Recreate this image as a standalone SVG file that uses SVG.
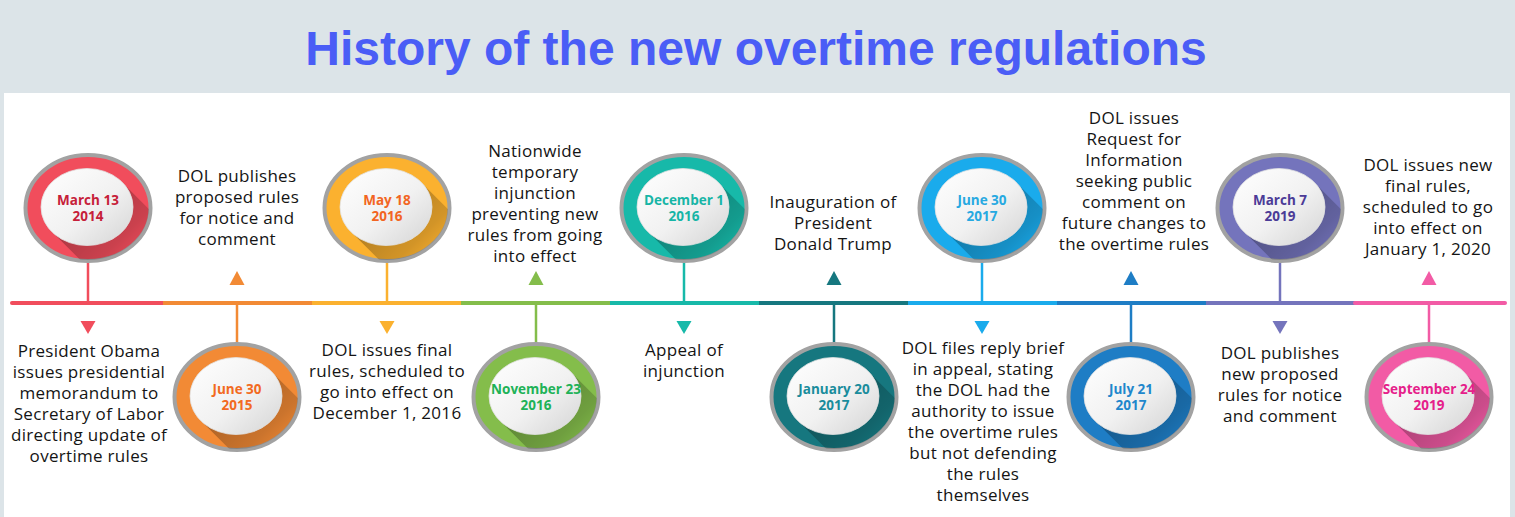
<svg xmlns="http://www.w3.org/2000/svg" xmlns:xlink="http://www.w3.org/1999/xlink" width="1515" height="517" viewBox="0 0 1515 517">
<style>
.title{font-family:"Liberation Sans",Arial,sans-serif;font-weight:700;font-size:48px;fill:#4a5df6;text-anchor:middle}
.desc{font-family:"Open Sans","Noto Sans",sans-serif;font-size:17px;fill:#141414;text-anchor:middle;letter-spacing:0.3px}
.date{font-family:"Open Sans","Noto Sans",sans-serif;font-weight:700;font-size:13.5px;text-anchor:middle}
.seg{stroke-width:4;fill:none}
.stem{stroke-width:2.5;fill:none}
</style>
<defs>
<linearGradient id="innerGrad" x1="0" y1="0" x2="1" y2="1">
<stop offset="0" stop-color="#ffffff"/>
<stop offset="0.55" stop-color="#f1f1f1"/>
<stop offset="1" stop-color="#d4d4d4"/>
</linearGradient>
<linearGradient id="shadowGrad" gradientUnits="userSpaceOnUse" x1="0" y1="0" x2="50" y2="50">
<stop offset="0" stop-color="#000" stop-opacity="0.28"/>
<stop offset="0.65" stop-color="#000" stop-opacity="0.16"/>
<stop offset="1" stop-color="#000" stop-opacity="0.03"/>
</linearGradient>
<clipPath id="ringClip"><ellipse cx="0" cy="0" rx="61" ry="52"/></clipPath>
<g id="badge">
<ellipse cx="0" cy="0" rx="62.5" ry="53" fill="currentColor" stroke="#a2a2a2" stroke-width="4"/>
<g clip-path="url(#ringClip)">
<path transform="translate(-1,-1)" d="M35.5,-24.2 L75.5,15.8 A46,38 0 0 1 69.3,69.3 A46,38 0 0 1 4.5,64.2 L-35.5,24.2 Z" fill="url(#shadowGrad)"/>
</g>
<ellipse cx="-1" cy="-1" rx="46" ry="38.5" fill="url(#innerGrad)" stroke="#e2e2e2" stroke-width="0.8"/>
</g>
</defs>

<rect x="0" y="0" width="1515" height="517" fill="#dce4e8"/>
<rect x="4" y="93" width="1506" height="424" fill="#ffffff"/>
<text class="title" x="756" y="65">History of the new overtime regulations</text>

<g id="connectors">
<line class="seg" x1="12" y1="303" x2="163" y2="303" stroke="#f14d5c" stroke-linecap="round"/>
<line class="seg" x1="163" y1="303" x2="312" y2="303" stroke="#f28a35"/>
<line class="seg" x1="312" y1="303" x2="461" y2="303" stroke="#fbb12f"/>
<line class="seg" x1="461" y1="303" x2="610" y2="303" stroke="#84bd4b"/>
<line class="seg" x1="610" y1="303" x2="759" y2="303" stroke="#17b9a9"/>
<line class="seg" x1="759" y1="303" x2="908" y2="303" stroke="#16777f"/>
<line class="seg" x1="908" y1="303" x2="1057" y2="303" stroke="#1aabec"/>
<line class="seg" x1="1057" y1="303" x2="1206" y2="303" stroke="#1e7dc5"/>
<line class="seg" x1="1206" y1="303" x2="1355" y2="303" stroke="#7474bc"/>
<line class="seg" x1="1355" y1="303" x2="1505" y2="303" stroke="#f25ba5" stroke-linecap="round"/>
<line class="stem" x1="88" y1="261" x2="88" y2="303" stroke="#f14d5c"/>
<line class="stem" x1="237" y1="303" x2="237" y2="344" stroke="#f28a35"/>
<line class="stem" x1="387" y1="261" x2="387" y2="303" stroke="#fbb12f"/>
<line class="stem" x1="536" y1="303" x2="536" y2="344" stroke="#84bd4b"/>
<line class="stem" x1="684" y1="261" x2="684" y2="303" stroke="#17b9a9"/>
<line class="stem" x1="834" y1="303" x2="834" y2="344" stroke="#16777f"/>
<line class="stem" x1="982" y1="261" x2="982" y2="303" stroke="#1aabec"/>
<line class="stem" x1="1131" y1="303" x2="1131" y2="344" stroke="#1e7dc5"/>
<line class="stem" x1="1280" y1="261" x2="1280" y2="303" stroke="#7474bc"/>
<line class="stem" x1="1429" y1="303" x2="1429" y2="344" stroke="#f25ba5"/>
</g>

<g id="event-2014-03-13">
<use xlink:href="#badge" href="#badge" transform="translate(88,208)" style="color:#f14d5c"/>
<text class="date" fill="#c62039"><tspan x="88" y="205">March 13</tspan><tspan x="88" y="221">2014</tspan></text>
<polygon points="80.5,321 95.5,321 88,334" fill="#f14d5c"/>
<text class="desc"><tspan x="89" y="357">President Obama</tspan><tspan x="89" dy="21">issues presidential</tspan><tspan x="89" dy="21">memorandum to</tspan><tspan x="89" dy="21">Secretary of Labor</tspan><tspan x="89" dy="21">directing update of</tspan><tspan x="89" dy="21">overtime rules</tspan></text>
</g>

<g id="event-2015-06-30">
<use xlink:href="#badge" href="#badge" transform="translate(237,397)" style="color:#f28a35"/>
<text class="date" fill="#f26a21"><tspan x="237" y="394">June 30</tspan><tspan x="237" y="410">2015</tspan></text>
<polygon points="229.5,285 244.5,285 237,271" fill="#f28a35"/>
<text class="desc"><tspan x="237" y="182">DOL publishes</tspan><tspan x="237" dy="21">proposed rules</tspan><tspan x="237" dy="21">for notice and</tspan><tspan x="237" dy="21">comment</tspan></text>
</g>

<g id="event-2016-05-18">
<use xlink:href="#badge" href="#badge" transform="translate(387,208)" style="color:#fbb12f"/>
<text class="date" fill="#f26522"><tspan x="387" y="205">May 18</tspan><tspan x="387" y="221">2016</tspan></text>
<polygon points="379.5,321 394.5,321 387,334" fill="#fbb12f"/>
<text class="desc"><tspan x="387" y="356">DOL issues final</tspan><tspan x="387" dy="21">rules, scheduled to</tspan><tspan x="387" dy="21">go into effect on</tspan><tspan x="387" dy="21">December 1, 2016</tspan></text>
</g>

<g id="event-2016-11-23">
<use xlink:href="#badge" href="#badge" transform="translate(536,397)" style="color:#84bd4b"/>
<text class="date" fill="#20b257"><tspan x="536" y="394">November 23</tspan><tspan x="536" y="410">2016</tspan></text>
<polygon points="528.5,285 543.5,285 536,271" fill="#84bd4b"/>
<text class="desc"><tspan x="535" y="157">Nationwide</tspan><tspan x="535" dy="21">temporary</tspan><tspan x="535" dy="21">injunction</tspan><tspan x="535" dy="21">preventing new</tspan><tspan x="535" dy="21">rules from going</tspan><tspan x="535" dy="21">into effect</tspan></text>
</g>

<g id="event-2016-12-01">
<use xlink:href="#badge" href="#badge" transform="translate(684,208)" style="color:#17b9a9"/>
<text class="date" fill="#17b5a6"><tspan x="684" y="205">December 1</tspan><tspan x="684" y="221">2016</tspan></text>
<polygon points="676.5,321 691.5,321 684,334" fill="#17b9a9"/>
<text class="desc"><tspan x="684" y="356">Appeal of</tspan><tspan x="684" dy="21">injunction</tspan></text>
</g>

<g id="event-2017-01-20">
<use xlink:href="#badge" href="#badge" transform="translate(834,397)" style="color:#16777f"/>
<text class="date" fill="#1a8c9c"><tspan x="834" y="394">January 20</tspan><tspan x="834" y="410">2017</tspan></text>
<polygon points="826.5,285 841.5,285 834,271" fill="#16777f"/>
<text class="desc"><tspan x="833" y="208">Inauguration of</tspan><tspan x="833" dy="21">President</tspan><tspan x="833" dy="21">Donald Trump</tspan></text>
</g>

<g id="event-2017-06-30">
<use xlink:href="#badge" href="#badge" transform="translate(982,208)" style="color:#1aabec"/>
<text class="date" fill="#27a9e1"><tspan x="982" y="205">June 30</tspan><tspan x="982" y="221">2017</tspan></text>
<polygon points="974.5,321 989.5,321 982,334" fill="#1aabec"/>
<text class="desc"><tspan x="983" y="354">DOL files reply brief</tspan><tspan x="983" dy="21">in appeal, stating</tspan><tspan x="983" dy="21">the DOL had the</tspan><tspan x="983" dy="21">authority to issue</tspan><tspan x="983" dy="21">the overtime rules</tspan><tspan x="983" dy="21">but not defending</tspan><tspan x="983" dy="21">the rules</tspan><tspan x="983" dy="21">themselves</tspan></text>
</g>

<g id="event-2017-07-21">
<use xlink:href="#badge" href="#badge" transform="translate(1131,397)" style="color:#1e7dc5"/>
<text class="date" fill="#1f87cc"><tspan x="1131" y="394">July 21</tspan><tspan x="1131" y="410">2017</tspan></text>
<polygon points="1123.5,285 1138.5,285 1131,271" fill="#1e7dc5"/>
<text class="desc"><tspan x="1134" y="124">DOL issues</tspan><tspan x="1134" dy="21">Request for</tspan><tspan x="1134" dy="21">Information</tspan><tspan x="1134" dy="21">seeking public</tspan><tspan x="1134" dy="21">comment on</tspan><tspan x="1134" dy="21">future changes to</tspan><tspan x="1134" dy="21">the overtime rules</tspan></text>
</g>

<g id="event-2019-03-07">
<use xlink:href="#badge" href="#badge" transform="translate(1280,208)" style="color:#7474bc"/>
<text class="date" fill="#4b3b97"><tspan x="1280" y="205">March 7</tspan><tspan x="1280" y="221">2019</tspan></text>
<polygon points="1272.5,321 1287.5,321 1280,334" fill="#7474bc"/>
<text class="desc"><tspan x="1280" y="359">DOL publishes</tspan><tspan x="1280" dy="21">new proposed</tspan><tspan x="1280" dy="21">rules for notice</tspan><tspan x="1280" dy="21">and comment</tspan></text>
</g>

<g id="event-2019-09-24">
<use xlink:href="#badge" href="#badge" transform="translate(1429,397)" style="color:#f25ba5"/>
<text class="date" fill="#e5208a"><tspan x="1429" y="394">September 24</tspan><tspan x="1429" y="410">2019</tspan></text>
<polygon points="1421.5,285 1436.5,285 1429,271" fill="#f25ba5"/>
<text class="desc"><tspan x="1428" y="171">DOL issues new</tspan><tspan x="1428" dy="21">final rules,</tspan><tspan x="1428" dy="21">scheduled to go</tspan><tspan x="1428" dy="21">into effect on</tspan><tspan x="1428" dy="21">January 1, 2020</tspan></text>
</g>
</svg>
